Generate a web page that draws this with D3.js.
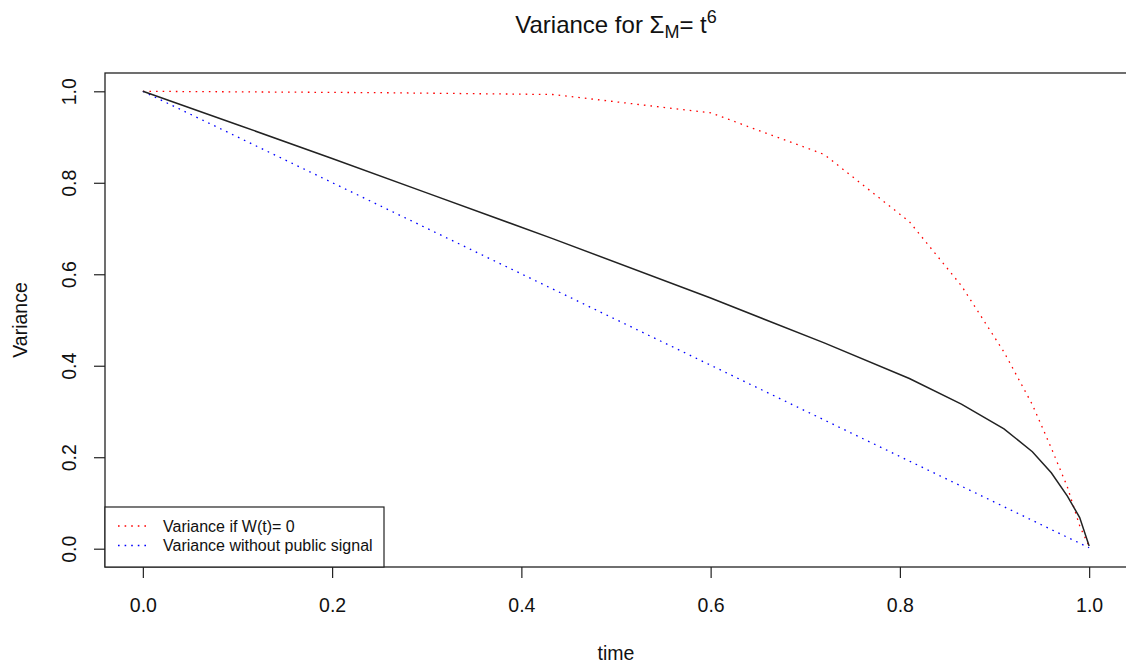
<!DOCTYPE html>
<html>
<head>
<meta charset="utf-8">
<script src="https://cdn.jsdelivr.net/npm/d3@7"></script>
<style>
  body { margin: 0; background: #fff; }
  text { font-family: "Liberation Sans", Arial, Helvetica, sans-serif; fill: #111; }
</style>
</head>
<body>
<div id="chart-area"></div>
<script>
// values
var blackTime = [0, 0.1, 0.2, 0.3, 0.433, 0.6, 0.72, 0.81, 0.865, 0.91, 0.94, 0.96, 0.977, 0.99, 1.0];
var blackVar  = [1.0, 0.927, 0.853, 0.778, 0.678, 0.548, 0.450, 0.372, 0.316, 0.262, 0.212, 0.166, 0.115, 0.068, 0.006];

var redTime = [0, 0.25, 0.433, 0.6, 0.72, 0.81, 0.865, 0.91, 0.94, 0.96, 0.977, 0.99, 1.0];
var redVar  = [1.0, 0.997, 0.993, 0.953, 0.862, 0.715, 0.575, 0.43, 0.315, 0.22, 0.135, 0.05, 0.005];

var blueTime = [0, 1.0];
var blueVar  = [1.0, 0.002];

var xTicks = [0, 0.2, 0.4, 0.6, 0.8, 1.0];
var yTicks = [0, 0.2, 0.4, 0.6, 0.8, 1.0];

var legendLabels = ["Variance if W(t)= 0", "Variance without public signal"];
var legendColors = ["#ff0000", "#0000ff"];

var width = 1126;
var height = 667;
var margin = { top: 73, right: -1, bottom: 100, left: 105 };

var svg = d3.select("#chart-area")
  .append("svg")
  .attr("width", width)
  .attr("height", height);

var x = d3.scaleLinear()
  .domain([-0.04, 1.04])
  .range([margin.left, width - margin.right]);

var y = d3.scaleLinear()
  .domain([-0.04, 1.04])
  .range([height - margin.bottom, margin.top]);

function series(ts, vs) {
  return ts.map((t, i) => ({ t: t, v: vs[i] }));
}

var line = d3.line()
  .x(d => x(d.t))
  .y(d => y(d.v));

// dotted series
svg.append("path")
  .datum(series(redTime, redVar))
  .attr("d", line)
  .attr("fill", "none")
  .attr("stroke", "#ff0000")
  .attr("stroke-width", 1.3)
  .attr("stroke-dasharray", "1.6,5");

svg.append("path")
  .datum(series(blueTime, blueVar))
  .attr("d", line)
  .attr("fill", "none")
  .attr("stroke", "#0000ff")
  .attr("stroke-width", 1.3)
  .attr("stroke-dasharray", "1.6,5");

svg.append("path")
  .datum(series(blackTime, blackVar))
  .attr("d", line)
  .attr("fill", "none")
  .attr("stroke", "#222")
  .attr("stroke-width", 1.5);

// box
svg.append("rect")
  .attr("x", x.range()[0])
  .attr("y", y.range()[1])
  .attr("width", x.range()[1] - x.range()[0])
  .attr("height", y.range()[0] - y.range()[1])
  .attr("fill", "none")
  .attr("stroke", "#222")
  .attr("stroke-width", 1.3);

// axes
var bottomAxis = d3.axisBottom(x).tickValues(xTicks).tickSize(11).tickPadding(20)
  .tickFormat(d3.format(".1f"));
var gx = svg.append("g")
  .attr("transform", "translate(0," + y.range()[0] + ")")
  .call(bottomAxis);
gx.select(".domain").remove();
gx.selectAll(".tick line").attr("stroke", "#222").attr("stroke-width", 1.2);
gx.selectAll("text").attr("font-size", "19.5px").attr("fill", "#111")
  .style("font-family", "Liberation Sans, Arial, sans-serif");

var leftAxis = d3.axisLeft(y).tickValues(yTicks).tickSize(11).tickFormat(d3.format(".1f"));
var gy = svg.append("g")
  .attr("transform", "translate(" + x.range()[0] + ",0)")
  .call(leftAxis);
gy.select(".domain").remove();
gy.selectAll(".tick line").attr("stroke", "#222").attr("stroke-width", 1.2);
gy.selectAll("text")
  .attr("font-size", "19.5px")
  .attr("fill", "#111")
  .style("font-family", "Liberation Sans, Arial, sans-serif")
  .attr("x", null)
  .attr("dy", null)
  .attr("text-anchor", "middle")
  .attr("transform", "translate(-29,0) rotate(-90)");

// axis titles
svg.append("text")
  .attr("x", (x.range()[0] + x.range()[1]) / 2)
  .attr("y", 660)
  .attr("text-anchor", "middle")
  .attr("font-size", "19.5px")
  .text("time");

svg.append("text")
  .attr("transform", "translate(27," + (y.range()[0] + y.range()[1]) / 2 + ") rotate(-90)")
  .attr("text-anchor", "middle")
  .attr("font-size", "19.5px")
  .text("Variance");

// title
var title = svg.append("text")
  .attr("x", 616)
  .attr("y", 33)
  .attr("text-anchor", "middle")
  .attr("font-size", "24px");
title.append("tspan").text("Variance for Σ");
title.append("tspan").attr("font-size", "18px").attr("dy", 5).text("M");
title.append("tspan").attr("dy", -5).text("= t");
title.append("tspan").attr("font-size", "18px").attr("dy", -10).text("6");

// legend
var legend = svg.append("g");
legend.append("rect")
  .attr("x", 105)
  .attr("y", 507)
  .attr("width", 279)
  .attr("height", 60)
  .attr("fill", "#fff")
  .attr("stroke", "#222")
  .attr("stroke-width", 1.2);

legendLabels.forEach((lab, i) => {
  var yy = 526 + i * 19.5;
  legend.append("line")
    .attr("x1", 118).attr("x2", 150)
    .attr("y1", yy).attr("y2", yy)
    .attr("stroke", legendColors[i])
    .attr("stroke-width", 1.3)
    .attr("stroke-dasharray", "1.6,5");
  legend.append("text")
    .attr("x", 163)
    .attr("y", yy + 5.5)
    .attr("font-size", "16px")
    .text(lab);
});
</script>
</body>
</html>
